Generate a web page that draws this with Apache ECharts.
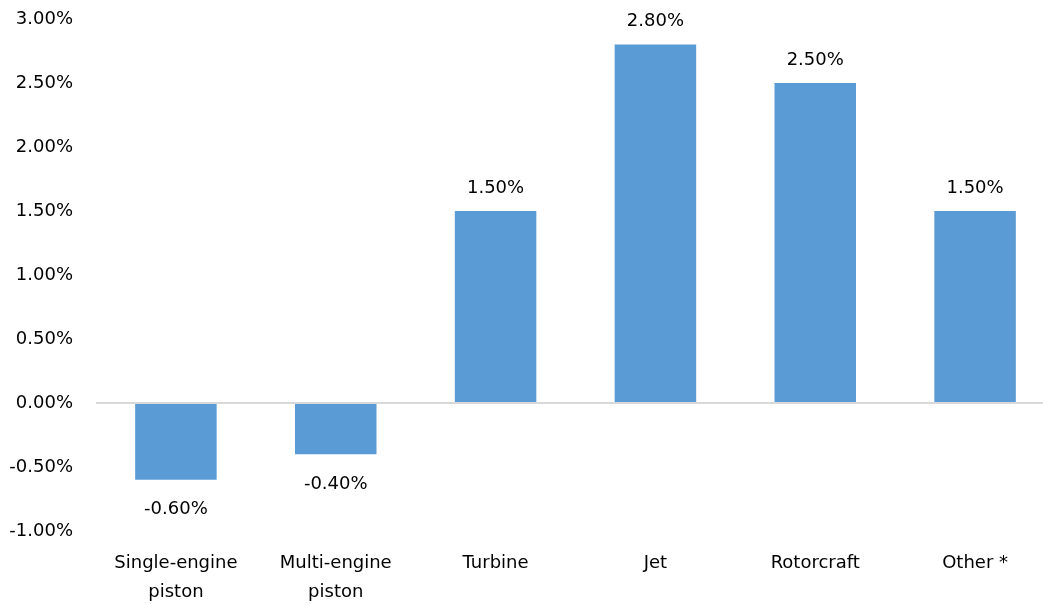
<!DOCTYPE html>
<html>
<head>
<meta charset="utf-8">
<script src="https://cdn.jsdelivr.net/npm/echarts@6/dist/echarts.min.js"></script>
<style>
  html, body { margin: 0; padding: 0; background: #ffffff; }
  #chart { width: 1043px; height: 604px; }
</style>
</head>
<body>
<div id="chart"></div>
<script>
// Average annual growth by aircraft category (percent)
const categories = ['Single-engine\npiston', 'Multi-engine\npiston', 'Turbine', 'Jet', 'Rotorcraft', 'Other *'];
const growthRates = [-0.6, -0.4, 1.5, 2.8, 2.5, 1.5];
const yTicks = { min: -1, max: 3, step: 0.5 };

const FONT = '"DejaVu Sans", sans-serif';
const TEXT = '#000000';
const BAR = '#5b9bd5';

const fmt = v => v.toFixed(2) + '%';

const barData = growthRates.map(v => ({
  value: v,
  label: v < 0
    ? { position: 'bottom', distance: 21 }
    : { position: 'top', distance: 14 }
}));

const chart = echarts.init(document.getElementById('chart'), null, { renderer: 'canvas' });
chart.setOption({
  animation: false,
  backgroundColor: '#ffffff',
  grid: {
    left: 96, top: 19, width: 959, bottom: 73,
    containLabel: false, outerBoundsMode: 'none'
  },
  xAxis: {
    type: 'category',
    data: categories,
    axisLine: { show: false, onZero: false },
    axisTick: { show: false },
    axisLabel: {
      color: TEXT, fontFamily: FONT, fontSize: 18, lineHeight: 29,
      margin: 18, interval: 0
    }
  },
  yAxis: {
    type: 'value',
    min: yTicks.min, max: yTicks.max, interval: yTicks.step,
    axisLine: { show: false },
    axisTick: { show: false },
    splitLine: { show: false },
    axisLabel: {
      color: TEXT, fontFamily: FONT, fontSize: 18, margin: 23,
      formatter: v => fmt(v)
    }
  },
  series: [{
    type: 'bar',
    data: barData,
    barWidth: '51%',
    itemStyle: { color: BAR },
    label: {
      show: true, color: TEXT, fontFamily: FONT, fontSize: 18,
      formatter: p => fmt(p.value)
    },
    markLine: {
      silent: true,
      symbol: ['none', 'none'],
      label: { show: false },
      lineStyle: { color: '#d9d9d9', width: 2, type: 'solid' },
      data: [{ yAxis: 0 }]
    },
    z: 3
  }]
});
</script>
</body>
</html>
